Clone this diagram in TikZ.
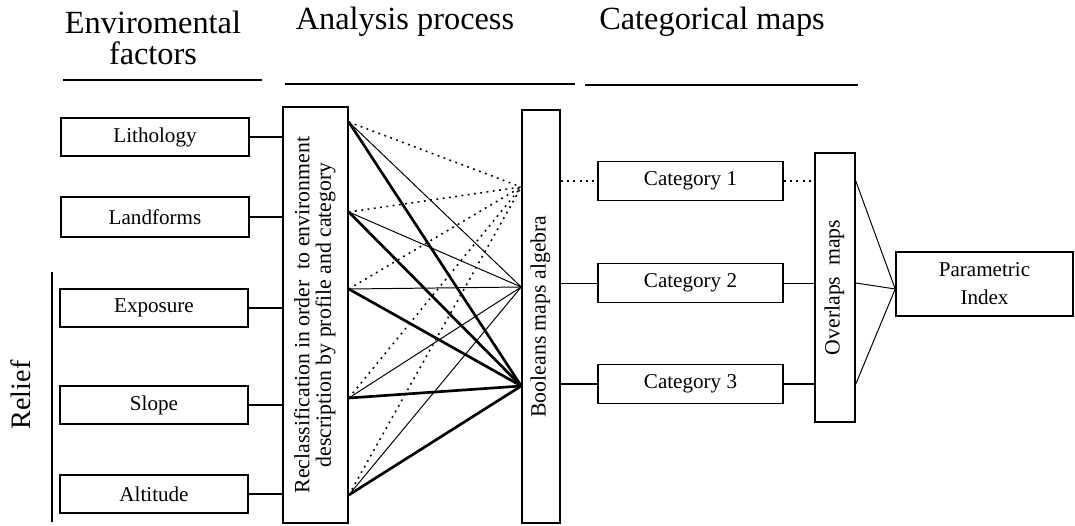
\documentclass[tikz,border=0pt]{standalone}
\usepackage{fontspec}
\setmainfont{Liberation Serif}

\begin{document}
\begin{tikzpicture}[x=0.025cm,y=-0.025cm]

        % Стили:
        \tikzstyle{blok}=[draw, line width=1.1pt, text centered, align=center,
        inner sep=0pt, font=\fontsize{15}{18}\selectfont]
        \tikzstyle{factor}=[blok, minimum width=4.7cm, minimum height=0.95cm]
        \tikzstyle{categ}=[blok, minimum width=4.625cm, minimum height=0.975cm]
        \tikzstyle{upright}=[blok, font=\fontsize{15.5}{14.5}\selectfont]
        \tikzstyle{head}=[align=center, font=\fontsize{23}{22}\selectfont]
        \tikzstyle{headline}=[draw, line width=1.2pt]
        \tikzstyle{dotline}=[draw, line width=1.1pt, dash pattern=on 1.3pt off 3.2pt]
        \tikzstyle{thinline}=[draw, line width=0.7pt]
        \tikzstyle{thickline}=[draw, line width=1.9pt]

        \newcommand{\factor}[3]{node (f#1) [factor,#3] {#2}}
        \newcommand{\categ}[3]{node (c#1) [categ,#3] {#2}}
        \newcommand{\upcol}[1]{\rotatebox{90}{\begin{tabular}{@{}c@{}}#1\end{tabular}}}

        \useasboundingbox (0,0) rectangle (1075,525);

        % Заголовки:
        \node (h1) [head] at (153,38) {Enviromental\\factors};
        \node (h2) [head] at (405,22) {Analysis process};
        \node (h3) [head] at (712,22) {Categorical maps};
        \path [headline] (63,80) -- (262,80);
        \path [headline] (285,84) -- (575,84);
        \path [headline] (585,85) -- (858,85);

        \node (relief) [rotate=90, font=\fontsize{20}{24}\selectfont] at (21,395) {Relief};
        \path [headline] (52,272) -- (52,522);

        % Прямоугольники:
        \path (155,137) \factor{1}{Lithology}{};
        \path (f1.center)+(0,80) \factor{2}{Landforms}{minimum height=1cm};
        \path (f2.center)+(-1,91) \factor{3}{Exposure}{};
        \path (f3.center)+(0,97) \factor{4}{Slope}{};
        \path (f4.center)+(0,89) \factor{5}{Altitude}{};

        \path (315.5,315) node (reclass) [upright, minimum width=1.625cm, minimum height=10.4cm]
        {\upcol{Reclassification in order\ \ to environment\\ description by profile and category}};
        \path (541,316.5) node (boolean) [upright, minimum width=0.95cm, minimum height=10.33cm]
        {\upcol{Booleans maps algebra}};

        \path (690.5,181) \categ{1}{Category 1}{};
        \path (c1.center)+(0,102) \categ{2}{Category 2}{};
        \path (c2.center)+(0,101) \categ{3}{Category 3}{};

        \path (835,287.5) node (overlap) [upright, minimum width=1cm, minimum height=6.725cm]
        {\upcol{Overlaps\ \ maps}};
        \path (984.5,284) node (param) [blok, minimum width=4.425cm, minimum height=1.6cm,
        font=\fontsize{15}{20}\selectfont] {Parametric\\ Index};

        % Точки на краях:
        \foreach \i/\y in {1/122,2/212,3/289,4/398,5/495}
            \coordinate (o\i) at (reclass.east |- 0,\y);
        \foreach \i/\y in {1/187,2/287,3/386}
            \coordinate (t\i) at (boolean.west |- 0,\y);
        \coordinate (pin) at (param.west |- 0,289);

        % Линии:
        \foreach \i in {1,...,5}
            \path [draw, line width=0.9pt] (f\i.east) -- (f\i.east -| reclass.west);

        \foreach \i in {1,...,5} {
            \path [dotline] (o\i) -- (t1);
            \path [thinline] (o\i) -- (t2);
            \path [thickline] (o\i) -- (t3);
        }

        \path [dotline] (c1.west -| boolean.east) -- (c1.west);
        \path [thinline] (c2.west -| boolean.east) -- (c2.west);
        \path [thickline] (c3.west -| boolean.east) -- (c3.west);

        \path [dotline] (c1.east) -- (c1.east -| overlap.west);
        \path [thinline] (c2.east) -- (c2.east -| overlap.west);
        \path [thickline] (c3.east) -- (c3.east -| overlap.west);

        \foreach \i in {1,2,3}
            \path [thinline] (c\i.east -| overlap.east) -- (pin);
\end{tikzpicture}
\end{document}
